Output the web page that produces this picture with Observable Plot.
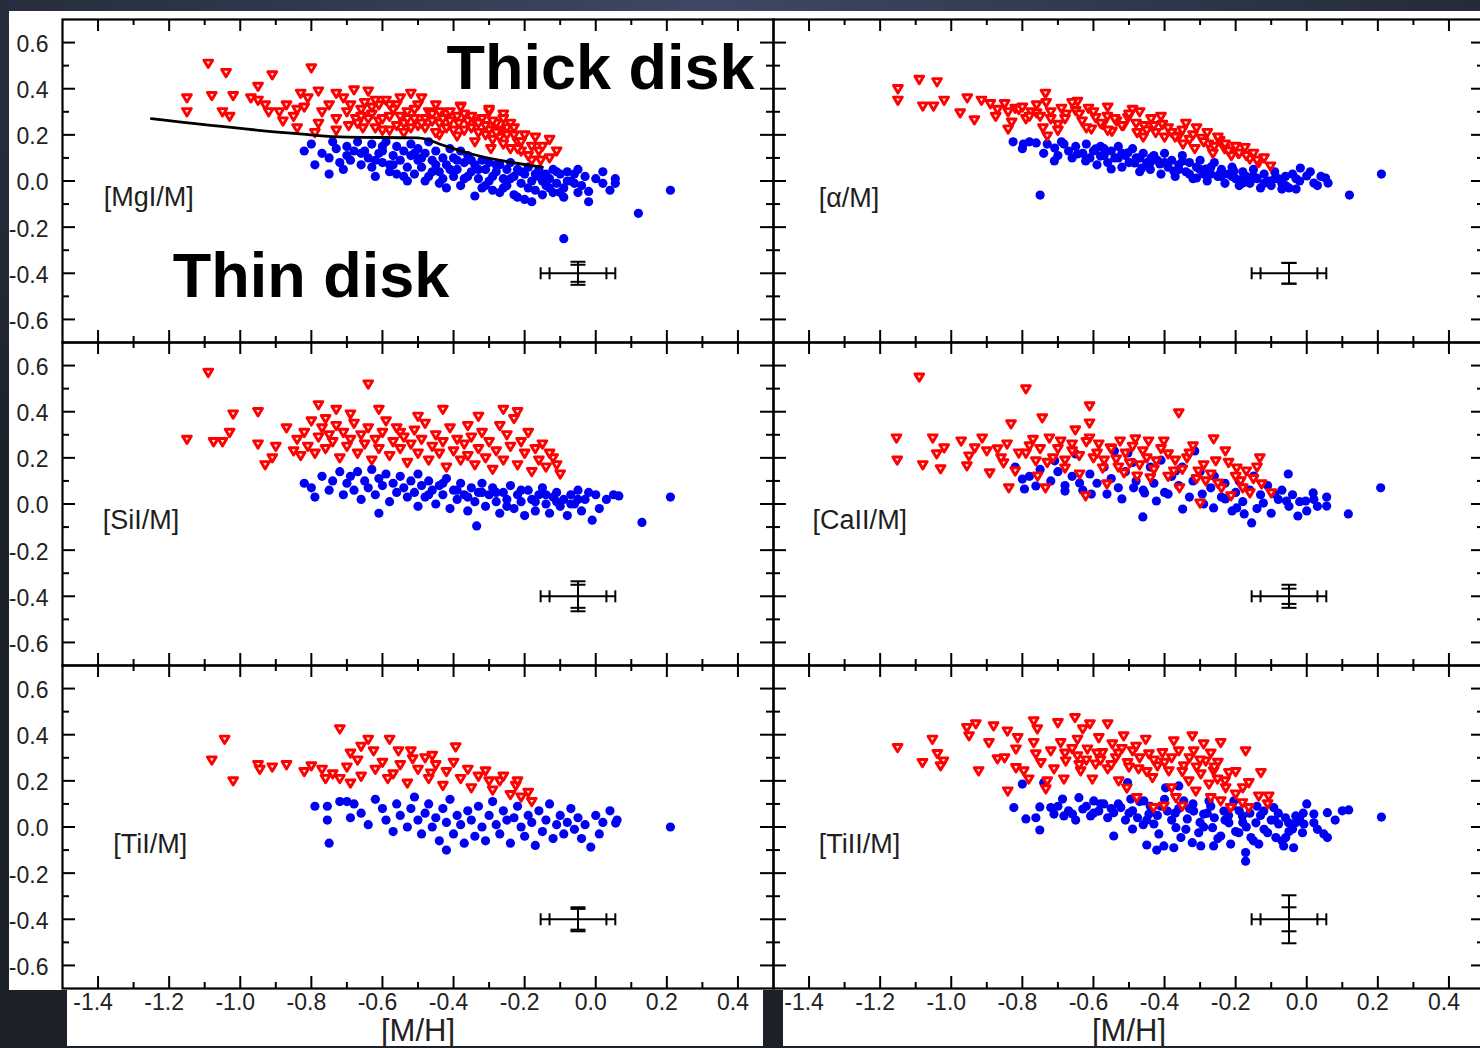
<!DOCTYPE html>
<html>
<head>
<meta charset="utf-8">
<script src="https://cdn.jsdelivr.net/npm/d3@7"></script>
<script src="https://cdn.jsdelivr.net/npm/@observablehq/plot@0.6"></script>
<style>
  html, body { margin: 0; padding: 0; }
  body {
    width: 1480px; height: 1048px; overflow: hidden; position: relative;
    background: radial-gradient(ellipse 70% 60% at 48% 0%, #3e4864 0%, #2b3243 55%, #1c2029 100%);
    font-family: "Liberation Sans", Arial, sans-serif;
  }
  .white { position: absolute; background: #fff; }
  .panel { position: absolute; }
</style>
</head>
<body>
<div class="white" style="left:9px; top:11px; width:1471px; height:979px;"></div>
<div class="white" style="left:67px; top:990px; width:696px; height:56px;"></div>
<div class="white" style="left:783px; top:990px; width:697px; height:56px;"></div>
<div id="plots"></div>
<script>
// ---------------- DATA ----------------
const xMajor = [-1.4, -1.2, -1.0, -0.8, -0.6, -0.4, -0.2, 0.0, 0.2, 0.4];
const xMinor = [-1.3, -1.1, -0.9, -0.7, -0.5, -0.3, -0.1, 0.1, 0.3];
const yMajor = [-0.6, -0.4, -0.2, 0.0, 0.2, 0.4, 0.6];
const yMinor = [-0.5, -0.3, -0.1, 0.1, 0.3, 0.5];

const panelLabels = ["[MgI/M]", "[α/M]", "[SiI/M]", "[CaII/M]", "[TiI/M]", "[TiII/M]"];

// thick disk / thin disk separation line in [MgI/M]
const mgLine = [[-1.25,0.27],[-0.84,0.205],[-0.70,0.19],[-0.50,0.187],[-0.42,0.15],[-0.35,0.117],[-0.26,0.087],[-0.15,0.06]];

// typical error bars: [M/H] centre, abundance centre, outer / inner half-widths
const errCenter = [-0.05, -0.4];
const errXOuter = 0.105, errXInner = 0.08;
const errYOuter = [0.05, 0.045, 0.065, 0.05, 0.052, 0.104];
const errYInner = [0.037, 0.045, 0.05, 0.033, 0.045, 0.052];

// ---- [MgI/M]
const mgThick = [[-1.09,0.51],[-1.04,0.47],[-0.91,0.46],[-0.80,0.49],[-1.15,0.36],[-1.15,0.30],[-1.08,0.37],[-1.02,0.37],[-1.05,0.30],[-1.03,0.28],[-0.95,0.41],[-0.97,0.36],[-0.95,0.35],[-0.93,0.33],[-0.92,0.30],[-0.89,0.30],[-0.87,0.33],[-0.88,0.26],[-0.84,0.23],[-0.85,0.28],[-0.84,0.31],[-0.83,0.38],[-0.82,0.32],[-0.81,0.36],[-0.78,0.39],[-0.79,0.21],[-0.78,0.25],[-0.77,0.30],[-0.75,0.33],[-0.73,0.38],[-0.73,0.27],[-0.73,0.22],[-0.71,0.36],[-0.70,0.30],[-0.695,0.24],[-0.68,0.395],[-0.675,0.27],[-0.655,0.23],[-0.65,0.34],[-0.64,0.39],[-0.63,0.29],[-0.61,0.33],[-0.61,0.26],[-0.59,0.35],[-0.60,0.22],[-0.58,0.28],[-0.56,0.33],[-0.54,0.25],[-0.54,0.21],[-0.52,0.38],[-0.53,0.30],[-0.51,0.27],[-0.50,0.33],[-0.48,0.23],[-0.47,0.30],[-0.46,0.29],[-0.44,0.25],[-0.44,0.20],[-0.42,0.29],[-0.41,0.30],[-0.42,0.23],[-0.39,0.195],[-0.38,0.325],[-0.385,0.25],[-0.36,0.26],[-0.35,0.23],[-0.34,0.17],[-0.32,0.27],[-0.30,0.30],[-0.30,0.22],[-0.29,0.18],[-0.28,0.25],[-0.26,0.29],[-0.25,0.23],[-0.27,0.19],[-0.24,0.25],[-0.23,0.20],[-0.22,0.17],[-0.21,0.13],[-0.24,0.14],[-0.17,0.19],[-0.16,0.13],[-0.155,0.09],[-0.13,0.18],[-0.11,0.13],[-0.13,0.10],[-0.18,0.09],[-0.26,0.16],[-0.295,0.14],[-0.38,0.32],[-0.30,0.31],[-0.26,0.27],[-0.19,0.11],[-0.22,0.14],[-0.69,0.33],[-0.67,0.25],[-0.66,0.31],[-0.64,0.27],[-0.62,0.35],[-0.62,0.23],[-0.57,0.31],[-0.56,0.24],[-0.55,0.36],[-0.53,0.27],[-0.50,0.24],[-0.49,0.36],[-0.48,0.27],[-0.45,0.33],[-0.43,0.27],[-0.40,0.22],[-0.37,0.29],[-0.34,0.26],[-0.33,0.21],[-0.31,0.24],[-0.27,0.22],[-0.20,0.20],[-0.58,0.22],[-0.45,0.21],[-0.66,0.28],[-0.63,0.32],[-0.60,0.27],[-0.58,0.33],[-0.55,0.28],[-0.52,0.23],[-0.51,0.31],[-0.49,0.25],[-0.46,0.26],[-0.44,0.30],[-0.41,0.26],[-0.39,0.28],[-0.37,0.22],[-0.35,0.28],[-0.33,0.25],[-0.31,0.20],[-0.29,0.26],[-0.28,0.21],[-0.25,0.20],[-0.23,0.23],[-0.21,0.17],[-0.18,0.15],[-0.15,0.15]];
const mgThin = [[-0.82,0.13],[-0.80,0.16],[-0.79,0.07],[-0.77,0.12],[-0.75,0.03],[-0.75,0.10],[-0.74,0.17],[-0.73,0.14],[-0.72,0.08],[-0.71,0.05],[-0.70,0.15],[-0.70,0.11],[-0.68,0.13],[-0.69,0.09],[-0.67,0.17],[-0.66,0.07],[-0.65,0.13],[-0.64,0.10],[-0.63,0.06],[-0.63,0.16],[-0.62,0.02],[-0.61,0.12],[-0.60,0.13],[-0.60,0.08],[-0.59,0.17],[-0.58,0.07],[-0.58,0.04],[-0.57,0.11],[-0.56,0.03],[-0.56,0.15],[-0.55,0.09],[-0.54,0.13],[-0.53,0.00],[-0.53,0.06],[-0.52,0.16],[-0.52,0.11],[-0.51,0.03],[-0.50,0.09],[-0.50,0.14],[-0.49,0.06],[-0.48,0.00],[-0.48,0.12],[-0.47,0.17],[-0.46,0.04],[-0.46,0.09],[-0.45,0.13],[-0.44,0.04],[-0.44,-0.01],[-0.43,0.10],[-0.42,-0.03],[-0.42,0.07],[-0.41,0.14],[-0.40,0.02],[-0.40,0.10],[-0.39,0.05],[-0.38,0.13],[-0.38,-0.02],[-0.37,0.01],[-0.37,0.08],[-0.36,0.11],[-0.35,0.04],[-0.34,-0.065],[-0.34,0.07],[-0.33,0.01],[-0.32,0.09],[-0.32,-0.03],[-0.31,0.05],[-0.30,0.00],[-0.30,0.08],[-0.29,-0.04],[-0.28,0.04],[-0.27,-0.05],[-0.27,0.07],[-0.26,0.01],[-0.25,0.05],[-0.25,-0.02],[-0.24,0.08],[-0.23,-0.06],[-0.23,0.02],[-0.22,-0.07],[-0.22,0.05],[-0.21,-0.01],[-0.20,0.03],[-0.20,-0.08],[-0.19,0.06],[-0.18,-0.09],[-0.18,0.00],[-0.17,-0.04],[-0.16,0.05],[-0.16,0.02],[-0.15,-0.06],[-0.14,0.03],[-0.14,-0.02],[-0.13,0.01],[-0.12,-0.05],[-0.12,0.05],[-0.11,-0.01],[-0.10,0.03],[-0.09,-0.07],[-0.09,-0.03],[-0.08,0.04],[-0.07,0.00],[-0.06,-0.01],[-0.05,0.05],[-0.05,-0.05],[-0.03,0.02],[-0.02,-0.09],[-0.02,-0.045],[0.00,0.01],[0.02,0.04],[0.02,-0.01],[0.04,-0.04],[0.055,0.01],[0.055,-0.01],[0.12,-0.14],[0.21,-0.04],[-0.09,-0.25],[-0.54,0.02],[-0.51,0.12],[-0.49,0.10],[-0.47,0.02],[-0.45,0.07],[-0.43,0.01],[-0.41,0.05],[-0.39,0.09],[-0.36,0.02],[-0.35,0.09],[-0.33,0.05],[-0.31,-0.02],[-0.29,0.02],[-0.28,0.07],[-0.26,-0.03],[-0.24,0.01],[-0.21,0.04],[-0.19,-0.03],[-0.17,0.03],[-0.15,0.00],[-0.13,-0.03],[-0.11,0.04],[-0.10,-0.05],[-0.08,0.00],[-0.06,0.03],[-0.04,-0.02],[-0.62,0.09],[-0.57,0.07],[-0.60,0.15],[-0.66,0.12]];

// ---- [alpha/M]
const alphaThick = [[-1.15,0.40],[-1.15,0.35],[-1.09,0.44],[-1.04,0.43],[-1.08,0.325],[-1.05,0.325],[-1.02,0.35],[-0.975,0.295],[-0.955,0.36],[-0.935,0.265],[-0.915,0.35],[-0.89,0.335],[-0.875,0.28],[-0.85,0.335],[-0.84,0.225],[-0.83,0.255],[-0.82,0.315],[-0.81,0.31],[-0.79,0.27],[-0.775,0.30],[-0.76,0.295],[-0.75,0.28],[-0.735,0.38],[-0.733,0.34],[-0.73,0.195],[-0.742,0.23],[-0.72,0.27],[-0.70,0.245],[-0.69,0.315],[-0.677,0.29],[-0.65,0.305],[-0.645,0.345],[-0.632,0.26],[-0.614,0.315],[-0.606,0.225],[-0.594,0.275],[-0.574,0.245],[-0.561,0.28],[-0.548,0.215],[-0.535,0.26],[-0.516,0.24],[-0.503,0.275],[-0.49,0.31],[-0.477,0.21],[-0.458,0.24],[-0.438,0.27],[-0.425,0.21],[-0.406,0.245],[-0.40,0.19],[-0.38,0.21],[-0.36,0.195],[-0.348,0.16],[-0.33,0.18],[-0.315,0.14],[-0.296,0.185],[-0.277,0.16],[-0.264,0.12],[-0.245,0.175],[-0.231,0.14],[-0.212,0.11],[-0.193,0.12],[-0.174,0.145],[-0.16,0.095],[-0.135,0.08],[-0.102,0.065],[-0.80,0.32],[-0.78,0.28],[-0.76,0.33],[-0.72,0.30],[-0.70,0.22],[-0.68,0.27],[-0.66,0.34],[-0.64,0.29],[-0.62,0.23],[-0.60,0.30],[-0.58,0.25],[-0.56,0.32],[-0.54,0.27],[-0.52,0.24],[-0.50,0.29],[-0.48,0.25],[-0.47,0.30],[-0.45,0.22],[-0.43,0.24],[-0.41,0.28],[-0.39,0.23],[-0.37,0.19],[-0.35,0.22],[-0.34,0.25],[-0.32,0.20],[-0.31,0.23],[-0.29,0.17],[-0.28,0.21],[-0.26,0.15],[-0.25,0.19],[-0.23,0.16],[-0.22,0.13],[-0.20,0.15],[-0.19,0.12],[-0.17,0.11],[-0.15,0.12],[-0.14,0.09],[-0.12,0.10],[-0.56,0.22],[-0.46,0.19],[-0.84,0.30],[-0.87,0.31]];
const alphaThin = [[-0.826,0.17],[-0.797,0.16],[-0.761,0.165],[-0.75,-0.061],[-0.71,0.087],[-0.709,0.143],[-0.683,0.16],[-0.645,0.117],[-0.622,0.087],[-0.594,0.139],[-0.58,0.108],[-0.55,0.052],[-0.53,0.10],[-0.503,0.122],[-0.484,0.078],[-0.464,0.056],[-0.438,0.10],[-0.413,0.074],[-0.374,0.043],[-0.349,0.087],[-0.31,0.013],[-0.284,0.052],[-0.245,0.03],[-0.205,0.043],[-0.18,-0.009],[-0.141,0.013],[-0.102,0.0],[-0.07,-0.035],[-0.03,-0.035],[-0.018,0.056],[0.0,0.022],[0.02,-0.009],[0.053,0.013],[0.06,-0.009],[0.12,-0.061],[0.21,0.03],[-0.80,0.14],[-0.78,0.17],[-0.74,0.12],[-0.73,0.16],[-0.70,0.11],[-0.69,0.17],[-0.67,0.13],[-0.66,0.10],[-0.65,0.15],[-0.63,0.12],[-0.62,0.16],[-0.61,0.10],[-0.60,0.13],[-0.59,0.07],[-0.58,0.15],[-0.57,0.11],[-0.56,0.08],[-0.55,0.13],[-0.54,0.10],[-0.53,0.15],[-0.52,0.06],[-0.51,0.11],[-0.50,0.08],[-0.49,0.14],[-0.48,0.10],[-0.47,0.04],[-0.46,0.12],[-0.45,0.08],[-0.44,0.05],[-0.43,0.11],[-0.42,0.09],[-0.41,0.03],[-0.40,0.12],[-0.39,0.06],[-0.38,0.09],[-0.37,0.02],[-0.36,0.07],[-0.35,0.11],[-0.34,0.04],[-0.33,0.08],[-0.32,0.01],[-0.31,0.06],[-0.30,0.09],[-0.29,0.03],[-0.28,0.00],[-0.27,0.06],[-0.26,0.08],[-0.25,0.02],[-0.24,0.05],[-0.23,-0.01],[-0.22,0.03],[-0.21,0.06],[-0.20,0.01],[-0.19,-0.02],[-0.18,0.04],[-0.17,0.02],[-0.16,-0.01],[-0.15,0.05],[-0.14,0.01],[-0.13,-0.03],[-0.12,0.03],[-0.11,0.00],[-0.10,-0.02],[-0.09,0.04],[-0.08,0.01],[-0.07,-0.01],[-0.06,0.02],[-0.05,-0.03],[-0.04,0.03],[-0.02,0.00],[0.01,0.04],[0.03,-0.02],[0.04,0.02],[-0.57,0.14],[-0.52,0.12],[-0.47,0.10],[-0.44,0.08],[-0.40,0.08],[-0.36,0.05],[-0.33,0.03],[-0.30,0.05],[-0.27,0.03],[-0.24,0.02],[-0.21,0.02],[-0.18,0.01],[-0.15,0.02],[-0.12,-0.01],[-0.09,0.01],[-0.06,-0.02],[-0.03,0.01]];

// ---- [SiI/M]
const siThick = [[-1.09,0.57],[-1.15,0.28],[-1.075,0.27],[-1.05,0.27],[-1.03,0.31],[-1.02,0.39],[-0.95,0.40],[-0.95,0.26],[-0.93,0.17],[-0.91,0.20],[-0.90,0.25],[-0.87,0.33],[-0.85,0.23],[-0.83,0.21],[-0.78,0.43],[-0.76,0.37],[-0.73,0.41],[-0.69,0.39],[-0.64,0.52],[-0.61,0.41],[-0.55,0.31],[-0.43,0.41],[-0.36,0.34],[-0.26,0.41],[-0.12,0.20],[-0.10,0.13],[-0.84,0.28],[-0.82,0.31],[-0.81,0.25],[-0.80,0.36],[-0.79,0.22],[-0.78,0.29],[-0.77,0.33],[-0.76,0.24],[-0.75,0.30],[-0.74,0.27],[-0.73,0.34],[-0.72,0.20],[-0.71,0.31],[-0.70,0.25],[-0.69,0.28],[-0.68,0.35],[-0.67,0.22],[-0.66,0.30],[-0.65,0.26],[-0.64,0.33],[-0.63,0.19],[-0.62,0.28],[-0.61,0.24],[-0.60,0.31],[-0.59,0.36],[-0.58,0.21],[-0.57,0.27],[-0.56,0.33],[-0.55,0.24],[-0.54,0.29],[-0.53,0.18],[-0.52,0.26],[-0.51,0.32],[-0.50,0.22],[-0.49,0.28],[-0.48,0.35],[-0.47,0.19],[-0.46,0.25],[-0.45,0.30],[-0.44,0.22],[-0.43,0.27],[-0.42,0.16],[-0.41,0.33],[-0.40,0.23],[-0.39,0.28],[-0.38,0.19],[-0.37,0.26],[-0.36,0.21],[-0.35,0.29],[-0.34,0.17],[-0.33,0.24],[-0.32,0.31],[-0.31,0.20],[-0.30,0.27],[-0.29,0.15],[-0.28,0.23],[-0.27,0.34],[-0.26,0.19],[-0.25,0.30],[-0.24,0.25],[-0.23,0.37],[-0.22,0.17],[-0.21,0.27],[-0.20,0.22],[-0.19,0.31],[-0.18,0.14],[-0.17,0.24],[-0.16,0.19],[-0.15,0.26],[-0.14,0.16],[-0.13,0.22],[-0.11,0.17],[-0.22,0.40],[-0.33,0.38],[-0.50,0.38]];
const siThin = [[-0.82,0.09],[-0.79,0.03],[-0.80,0.07],[-0.77,0.12],[-0.75,0.06],[-0.74,0.10],[-0.72,0.14],[-0.71,0.04],[-0.70,0.09],[-0.69,0.12],[-0.68,0.06],[-0.67,0.14],[-0.66,0.02],[-0.65,0.10],[-0.64,0.07],[-0.63,0.15],[-0.62,0.04],[-0.61,-0.04],[-0.61,0.11],[-0.60,0.08],[-0.59,0.13],[-0.58,0.01],[-0.57,0.09],[-0.56,0.05],[-0.55,0.12],[-0.54,0.07],[-0.53,0.03],[-0.52,0.10],[-0.51,0.05],[-0.50,-0.01],[-0.50,0.13],[-0.49,0.08],[-0.48,0.03],[-0.47,0.10],[-0.46,0.06],[-0.45,0.00],[-0.44,0.08],[-0.43,0.04],[-0.42,0.11],[-0.41,-0.02],[-0.40,0.06],[-0.39,0.02],[-0.38,0.09],[-0.37,0.04],[-0.36,-0.03],[-0.35,0.07],[-0.34,0.01],[-0.335,-0.095],[-0.33,0.05],[-0.32,0.09],[-0.31,-0.01],[-0.30,0.04],[-0.29,0.07],[-0.28,0.01],[-0.27,-0.04],[-0.26,0.05],[-0.25,0.02],[-0.24,0.08],[-0.23,-0.02],[-0.22,0.04],[-0.21,0.01],[-0.20,-0.05],[-0.19,0.06],[-0.18,0.02],[-0.17,-0.03],[-0.16,0.04],[-0.15,0.07],[-0.14,0.00],[-0.13,-0.04],[-0.12,0.03],[-0.11,0.05],[-0.10,-0.01],[-0.09,0.02],[-0.08,-0.05],[-0.07,0.04],[-0.06,0.00],[-0.05,0.06],[-0.04,-0.03],[-0.03,0.02],[-0.01,-0.07],[0.00,0.04],[0.01,-0.02],[0.03,0.02],[0.05,0.04],[0.065,0.035],[0.13,-0.08],[0.21,0.03],[-0.47,0.04],[-0.43,0.09],[-0.39,0.06],[-0.36,0.03],[-0.32,0.05],[-0.28,0.05],[-0.25,-0.01],[-0.21,0.06],[-0.17,0.01],[-0.14,0.04],[-0.11,0.01],[-0.07,0.00],[-0.05,0.02],[-0.02,0.05]];

// ---- [CaII/M]
const caThick = [[-1.09,0.55],[-1.154,0.286],[-1.152,0.19],[-1.08,0.17],[-1.052,0.286],[-1.041,0.217],[-1.02,0.243],[-1.03,0.152],[-0.972,0.273],[-0.95,0.208],[-0.956,0.165],[-0.934,0.243],[-0.913,0.286],[-0.892,0.135],[-0.87,0.239],[-0.853,0.178],[-0.843,0.26],[-0.832,0.347],[-0.82,0.143],[-0.838,0.07],[-0.81,0.221],[-0.79,0.499],[-0.78,0.252],[-0.762,0.187],[-0.757,0.121],[-0.744,0.373],[-0.735,0.07],[-0.724,0.286],[-0.714,0.2],[-0.692,0.273],[-0.68,0.156],[-0.66,0.23],[-0.651,0.321],[-0.639,0.13],[-0.622,0.035],[-0.611,0.425],[-0.611,0.351],[-0.611,0.286],[-0.6,0.2],[-0.585,0.26],[-0.574,0.156],[-0.562,0.087],[-0.552,0.243],[-0.536,0.195],[-0.525,0.273],[-0.514,0.135],[-0.498,0.178],[-0.482,0.282],[-0.477,0.121],[-0.461,0.23],[-0.445,0.273],[-0.44,0.113],[-0.423,0.187],[-0.402,0.273],[-0.39,0.217],[-0.374,0.143],[-0.36,0.395],[-0.358,0.07],[-0.337,0.2],[-0.32,0.252],[-0.305,0.143],[-0.30,0.004],[-0.284,0.1],[-0.262,0.282],[-0.256,0.187],[-0.24,0.07],[-0.229,0.23],[-0.213,0.035],[-0.197,0.156],[-0.186,0.1],[-0.17,0.143],[-0.132,0.2],[-0.16,0.048],[-0.127,0.087],[-0.10,0.048],[-0.90,0.23],[-0.86,0.20],[-0.79,0.22],[-0.77,0.28],[-0.75,0.24],[-0.73,0.18],[-0.70,0.24],[-0.68,0.19],[-0.66,0.26],[-0.64,0.21],[-0.62,0.27],[-0.59,0.22],[-0.57,0.19],[-0.55,0.24],[-0.53,0.16],[-0.51,0.22],[-0.49,0.25],[-0.47,0.17],[-0.45,0.20],[-0.43,0.15],[-0.41,0.24],[-0.39,0.12],[-0.37,0.19],[-0.35,0.15],[-0.33,0.22],[-0.31,0.11],[-0.29,0.17],[-0.27,0.13],[-0.25,0.09],[-0.22,0.18],[-0.20,0.12],[-0.18,0.07],[-0.15,0.11],[-0.14,0.16]];
const caThin = [[-0.82,0.16],[-0.80,0.108],[-0.794,0.065],[-0.762,0.078],[-0.709,0.187],[-0.68,0.056],[-0.65,0.217],[-0.639,0.091],[-0.606,0.043],[-0.562,0.043],[-0.541,0.23],[-0.52,0.022],[-0.503,0.221],[-0.487,0.07],[-0.461,-0.056],[-0.456,0.048],[-0.423,0.013],[-0.39,0.043],[-0.369,0.143],[-0.349,-0.022],[-0.315,0.23],[-0.294,0.043],[-0.262,-0.017],[-0.229,0.022],[-0.197,-0.017],[-0.176,-0.043],[-0.155,-0.082],[-0.149,0.121],[-0.122,0.004],[-0.09,0.043],[-0.057,0.013],[-0.052,0.13],[-0.025,-0.052],[-0.003,0.013],[0.018,0.048],[0.056,0.03],[0.056,-0.009],[0.117,-0.043],[0.208,0.07],[-0.78,0.12],[-0.75,0.15],[-0.72,0.10],[-0.70,0.14],[-0.68,0.08],[-0.66,0.12],[-0.63,0.06],[-0.61,0.13],[-0.59,0.09],[-0.57,0.16],[-0.55,0.11],[-0.53,0.07],[-0.51,0.14],[-0.49,0.18],[-0.48,0.10],[-0.46,0.06],[-0.44,0.16],[-0.43,0.09],[-0.41,0.19],[-0.40,0.05],[-0.38,0.12],[-0.36,0.08],[-0.35,0.16],[-0.33,0.03],[-0.32,0.10],[-0.30,0.14],[-0.29,0.00],[-0.27,0.07],[-0.26,0.12],[-0.24,0.03],[-0.23,0.09],[-0.21,-0.03],[-0.20,0.05],[-0.19,0.10],[-0.18,0.01],[-0.16,0.06],[-0.14,-0.02],[-0.13,0.04],[-0.11,0.08],[-0.10,-0.04],[-0.08,0.02],[-0.07,0.06],[-0.05,-0.01],[-0.04,0.04],[-0.02,0.01],[0.00,-0.03],[0.02,0.02],[0.03,-0.01]];

// ---- [TiI/M]
const tiThick = [[-1.044,0.38],[-1.08,0.29],[-1.02,0.20],[-0.95,0.27],[-0.945,0.25],[-0.91,0.26],[-0.87,0.27],[-0.82,0.24],[-0.80,0.265],[-0.77,0.25],[-0.72,0.425],[-0.74,0.23],[-0.72,0.21],[-0.64,0.38],[-0.625,0.33],[-0.58,0.38],[-0.555,0.33],[-0.62,0.25],[-0.585,0.21],[-0.515,0.295],[-0.464,0.234],[-0.394,0.347],[-0.31,0.243],[-0.27,0.20],[-0.225,0.18],[-0.21,0.13],[-0.76,0.21],[-0.70,0.26],[-0.69,0.19],[-0.67,0.29],[-0.66,0.22],[-0.60,0.28],[-0.57,0.23],[-0.55,0.27],[-0.53,0.19],[-0.50,0.25],[-0.48,0.30],[-0.47,0.21],[-0.45,0.27],[-0.43,0.18],[-0.42,0.24],[-0.40,0.28],[-0.38,0.21],[-0.36,0.25],[-0.35,0.17],[-0.33,0.22],[-0.30,0.20],[-0.29,0.16],[-0.26,0.22],[-0.24,0.14],[-0.22,0.20],[-0.19,0.15],[-0.18,0.11],[-0.52,0.33],[-0.46,0.31],[-0.66,0.35],[-0.69,0.32]];
const tiThin = [[-0.79,0.09],[-0.755,0.09],[-0.755,0.03],[-0.72,0.11],[-0.70,0.11],[-0.68,0.10],[-0.75,-0.07],[-0.69,0.04],[-0.66,0.06],[-0.64,0.01],[-0.62,0.12],[-0.60,0.08],[-0.59,0.03],[-0.57,-0.02],[-0.56,0.10],[-0.55,0.05],[-0.53,0.00],[-0.52,0.08],[-0.51,0.13],[-0.50,0.03],[-0.49,-0.03],[-0.48,0.06],[-0.47,0.10],[-0.46,0.00],[-0.45,0.04],[-0.44,-0.06],[-0.43,0.08],[-0.42,-0.10],[-0.42,0.02],[-0.41,0.12],[-0.40,-0.03],[-0.39,0.05],[-0.38,0.01],[-0.37,-0.07],[-0.36,0.07],[-0.35,0.03],[-0.34,-0.04],[-0.33,0.09],[-0.32,0.00],[-0.31,-0.06],[-0.30,0.05],[-0.29,0.11],[-0.28,0.01],[-0.27,-0.03],[-0.26,0.07],[-0.25,0.03],[-0.24,-0.07],[-0.23,0.04],[-0.22,0.09],[-0.21,0.00],[-0.20,-0.04],[-0.19,0.05],[-0.18,0.02],[-0.17,-0.08],[-0.16,0.07],[-0.15,-0.02],[-0.14,0.03],[-0.13,0.10],[-0.12,-0.05],[-0.11,0.01],[-0.10,0.05],[-0.09,-0.03],[-0.08,0.02],[-0.07,0.08],[-0.06,-0.01],[-0.05,0.04],[-0.04,-0.05],[-0.03,0.01],[-0.014,-0.087],[0.00,0.05],[0.01,-0.03],[0.02,0.02],[0.04,0.07],[0.056,0.017],[0.06,0.03],[0.21,0.00]];

// ---- [TiII/M]
const ti2Thick = [[-1.151,0.344],[-1.053,0.38],[-1.039,0.318],[-1.081,0.279],[-1.022,0.286],[-1.03,0.265],[-0.956,0.431],[-0.931,0.447],[-0.95,0.395],[-0.923,0.243],[-0.881,0.438],[-0.894,0.366],[-0.87,0.295],[-0.85,0.30],[-0.842,0.416],[-0.841,0.156],[-0.818,0.338],[-0.813,0.387],[-0.818,0.257],[-0.796,0.243],[-0.782,0.208],[-0.768,0.46],[-0.768,0.366],[-0.758,0.425],[-0.762,0.317],[-0.748,0.279],[-0.73,0.2],[-0.734,0.165],[-0.72,0.33],[-0.711,0.252],[-0.70,0.452],[-0.692,0.366],[-0.683,0.208],[-0.678,0.286],[-0.652,0.474],[-0.645,0.38],[-0.645,0.308],[-0.636,0.243],[-0.63,0.425],[-0.617,0.338],[-0.61,0.447],[-0.603,0.208],[-0.594,0.273],[-0.585,0.387],[-0.575,0.322],[-0.56,0.447],[-0.56,0.252],[-0.547,0.36],[-0.537,0.30],[-0.529,0.2],[-0.515,0.395],[-0.504,0.279],[-0.506,0.169],[-0.49,0.33],[-0.478,0.127],[-0.473,0.252],[-0.453,0.38],[-0.444,0.317],[-0.434,0.214],[-0.42,0.265],[-0.406,0.322],[-0.431,0.084],[-0.402,0.091],[-0.388,0.243],[-0.374,0.373],[-0.368,0.127],[-0.36,0.33],[-0.35,0.091],[-0.346,0.265],[-0.332,0.2],[-0.322,0.395],[-0.318,0.33],[-0.312,0.156],[-0.298,0.23],[-0.29,0.36],[-0.284,0.286],[-0.275,0.186],[-0.27,0.127],[-0.262,0.243],[-0.251,0.208],[-0.242,0.366],[-0.242,0.113],[-0.228,0.17],[-0.219,0.236],[-0.214,0.084],[-0.2,0.143],[-0.181,0.105],[-0.172,0.33],[-0.163,0.192],[-0.163,0.084],[-0.135,0.134],[-0.129,0.236],[-0.107,0.134],[-0.11,0.10],[-0.66,0.34],[-0.59,0.32],[-0.52,0.34],[-0.47,0.30],[-0.40,0.28],[-0.33,0.30],[-0.27,0.32],[-0.62,0.29],[-0.55,0.27],[-0.45,0.24],[-0.38,0.17],[-0.31,0.26],[-0.25,0.28],[-0.68,0.32],[-0.64,0.27],[-0.58,0.29],[-0.53,0.32],[-0.50,0.26],[-0.48,0.35],[-0.43,0.29],[-0.38,0.30],[-0.35,0.24],[-0.30,0.29],[-0.26,0.26],[-0.23,0.20],[-0.20,0.24],[-0.18,0.17]];
const ti2Thin = [[-0.80,0.186],[-0.824,0.084],[-0.79,0.035],[-0.762,0.04],[-0.751,-0.013],[-0.751,0.087],[-0.74,0.192],[-0.72,0.084],[-0.711,0.056],[-0.687,0.121],[-0.683,0.048],[-0.659,0.056],[-0.641,0.127],[-0.63,0.078],[-0.608,0.048],[-0.599,0.113],[-0.585,0.069],[-0.571,0.10],[-0.543,-0.039],[-0.543,0.062],[-0.523,0.084],[-0.504,0.192],[-0.495,0.121],[-0.49,-0.009],[-0.476,0.04],[-0.458,0.113],[-0.45,-0.078],[-0.444,0.056],[-0.43,0.013],[-0.422,-0.1],[-0.416,-0.03],[-0.402,-0.082],[-0.397,0.17],[-0.392,0.069],[-0.374,-0.09],[-0.368,-0.003],[-0.36,0.178],[-0.354,-0.046],[-0.346,0.113],[-0.336,0.035],[-0.322,-0.068],[-0.318,0.069],[-0.304,-0.025],[-0.298,-0.082],[-0.29,0.056],[-0.275,0.113],[-0.265,-0.003],[-0.262,-0.082],[-0.242,-0.039],[-0.233,0.069],[-0.219,0.018],[-0.214,-0.074],[-0.205,0.113],[-0.191,-0.025],[-0.181,0.048],[-0.172,-0.111],[-0.172,-0.148],[-0.157,-0.046],[-0.143,0.018],[-0.135,-0.074],[-0.121,0.069],[-0.11,-0.025],[-0.093,0.084],[-0.087,-0.046],[-0.079,0.013],[-0.065,-0.082],[-0.059,-0.046],[-0.051,0.018],[-0.04,-0.009],[-0.037,-0.09],[-0.031,0.048],[-0.012,-0.025],[-0.008,0.013],[0.0,0.10],[0.02,0.056],[0.02,0.018],[0.048,-0.03],[0.058,-0.046],[0.058,0.062],[0.118,0.074],[0.21,0.043],[-0.70,0.09],[-0.67,0.07],[-0.65,0.03],[-0.62,0.09],[-0.60,0.06],[-0.58,0.10],[-0.56,0.04],[-0.53,0.10],[-0.51,0.03],[-0.49,0.07],[-0.47,0.11],[-0.46,0.01],[-0.44,0.09],[-0.42,0.05],[-0.40,0.12],[-0.38,0.03],[-0.36,0.08],[-0.34,-0.01],[-0.32,0.10],[-0.30,0.02],[-0.28,0.06],[-0.26,0.04],[-0.25,-0.05],[-0.23,0.03],[-0.21,0.09],[-0.20,-0.02],[-0.18,0.02],[-0.16,0.06],[-0.15,-0.06],[-0.13,0.05],[-0.12,-0.01],[-0.10,0.03],[-0.08,0.06],[-0.07,-0.06],[-0.06,0.04],[-0.03,0.02],[-0.01,0.06],[0.03,-0.01],[0.08,0.03],[0.10,0.07],[-0.55,0.08],[-0.50,0.06],[-0.45,0.03],[-0.41,0.09],[-0.37,0.06],[-0.33,0.08],[-0.29,0.00],[-0.27,0.09],[-0.22,0.05],[-0.19,0.07],[-0.17,0.00],[-0.14,0.09],[-0.09,0.03],[-0.05,-0.02],[-0.02,0.04]];

const thickSets = [mgThick, alphaThick, siThick, caThick, tiThick, ti2Thick];
const thinSets  = [mgThin, alphaThin, siThin, caThin, tiThin, ti2Thin];

// ---------------- LAYOUT / STYLE ----------------
const FW = 711, FH = 323;            // frame size of each panel
const ML = 60, MR = 12, MT = 10, MB = 62;
const FRAME_X0 = 62, FRAME_Y0 = 19;
const FONT = "'Liberation Sans', Arial, Helvetica, sans-serif";
const labelPos = [[-1.384,-0.07],[-1.373,-0.075],[-1.387,-0.07],[-1.39,-0.07],[-1.357,-0.074],[-1.373,-0.074]];

const triDown = {draw(ctx, size) { const r = Math.sqrt(size / Math.PI); ctx.moveTo(-r, -0.72*r); ctx.lineTo(r, -0.72*r); ctx.lineTo(0, 0.95*r); ctx.closePath(); }};
const vBar = {draw(ctx, size) { const r = Math.sqrt(size / Math.PI); ctx.moveTo(0, -r); ctx.lineTo(0, r); }};
const hBar = {draw(ctx, size) { const r = Math.sqrt(size / Math.PI); ctx.moveTo(-r, 0); ctx.lineTo(r, 0); }};

const px = d => d[0], py = d => d[1];

function makePanel(i) {
  const col = i % 2, row = Math.floor(i / 2);
  const [cx, cy] = errCenter;
  const xCaps = [cx - errXOuter, cx - errXInner, cx + errXInner, cx + errXOuter].map(x => ({x, y: cy}));
  const yCaps = [cy + errYOuter[i], cy + errYInner[i], cy - errYInner[i], cy - errYOuter[i]].map(y => ({x: cx, y}));
  const marks = [];

  marks.push(Plot.dot(thinSets[i], {x: px, y: py, r: 4.6, fill: "#0000f5"}));
  marks.push(Plot.dot(thickSets[i], {x: px, y: py, r: 4.4, symbol: triDown, fill: "#ffe8e8", stroke: "#ff0000", strokeWidth: 2.9, strokeLinejoin: "round"}));

  if (i === 0) {
    marks.push(Plot.line(mgLine, {x: px, y: py, stroke: "black", strokeWidth: 2.8, curve: "monotone-x"}));
    marks.push(Plot.text([{t: "Thick disk", x: -0.42, y: 0.485}], {x: "x", y: "y", text: "t", textAnchor: "start", fontSize: 63, fontWeight: "bold", fill: "black"}));
    marks.push(Plot.text([{t: "Thin disk", x: -1.19, y: -0.415}], {x: "x", y: "y", text: "t", textAnchor: "start", fontSize: 63, fontWeight: "bold", fill: "black"}));
  }

  // error cross
  marks.push(Plot.ruleY([{y: cy}], {y: "y", x1: cx - errXOuter, x2: cx + errXOuter, stroke: "black", strokeWidth: 2}));
  marks.push(Plot.ruleX([{x: cx}], {x: "x", y1: cy - errYOuter[i], y2: cy + errYOuter[i], stroke: "black", strokeWidth: 2}));
  marks.push(Plot.dot(xCaps, {x: "x", y: "y", r: 6, symbol: vBar, fill: "none", stroke: "black", strokeWidth: 2}));
  marks.push(Plot.dot(yCaps, {x: "x", y: "y", r: 7.5, symbol: hBar, fill: "none", stroke: "black", strokeWidth: 2}));

  // panel label
  marks.push(Plot.text([{t: panelLabels[i], x: labelPos[i][0], y: labelPos[i][1]}], {x: "x", y: "y", text: "t", textAnchor: "start", fontSize: 27, fill: "#1e1e1e"}));

  // inward ticks on all four sides
  const tk = {stroke: "black", strokeWidth: 2};
  marks.push(Plot.tickX(xMajor, {x: d => d, insetBottom: FH - 12, ...tk}));
  marks.push(Plot.tickX(xMinor, {x: d => d, insetBottom: FH - 6, ...tk}));
  marks.push(Plot.tickX(xMajor, {x: d => d, insetTop: FH - 12, ...tk}));
  marks.push(Plot.tickX(xMinor, {x: d => d, insetTop: FH - 6, ...tk}));
  marks.push(Plot.tickY(yMajor, {y: d => d, insetRight: FW - 13, ...tk}));
  marks.push(Plot.tickY(yMinor, {y: d => d, insetRight: FW - 7, ...tk}));
  marks.push(Plot.tickY(yMajor, {y: d => d, insetLeft: FW - 13, ...tk}));
  marks.push(Plot.tickY(yMinor, {y: d => d, insetLeft: FW - 7, ...tk}));
  marks.push(Plot.frame({stroke: "black", strokeWidth: 2.2}));

  if (col === 0) {
    marks.push(Plot.text(yMajor, {y: d => d, frameAnchor: "left", textAnchor: "end", dx: -14, dy: 2, text: d => d.toFixed(1), fontSize: 23, fill: "#222"}));
  }
  if (row === 2) {
    marks.push(Plot.text(xMajor, {x: d => d, frameAnchor: "bottom", lineAnchor: "top", dy: 5, dx: -5, text: d => d.toFixed(1), fontSize: 23, fill: "#222"}));
    marks.push(Plot.text([{t: "[M/H]"}], {frameAnchor: "bottom", lineAnchor: "top", dy: 30, text: "t", fontSize: 31, fill: "#222"}));
  }

  const svg = Plot.plot({
    width: FW + ML + MR, height: FH + MT + MB,
    marginLeft: ML, marginRight: MR, marginTop: MT, marginBottom: MB,
    x: {domain: [-1.5, 0.5], axis: null},
    y: {domain: [-0.7, 0.7], axis: null},
    style: {background: "transparent", overflow: "visible", maxWidth: "none", fontFamily: FONT, fontSize: "23px", color: "#222"},
    marks
  });
  const holder = document.createElement("div");
  holder.className = "panel";
  holder.style.left = (FRAME_X0 + col * FW - ML) + "px";
  holder.style.top = (FRAME_Y0 + row * FH - MT) + "px";
  holder.style.width = (FW + ML + MR) + "px";
  holder.appendChild(svg);
  document.getElementById("plots").appendChild(holder);
}

for (let i = 0; i < 6; i++) makePanel(i);
</script>
</body>
</html>
